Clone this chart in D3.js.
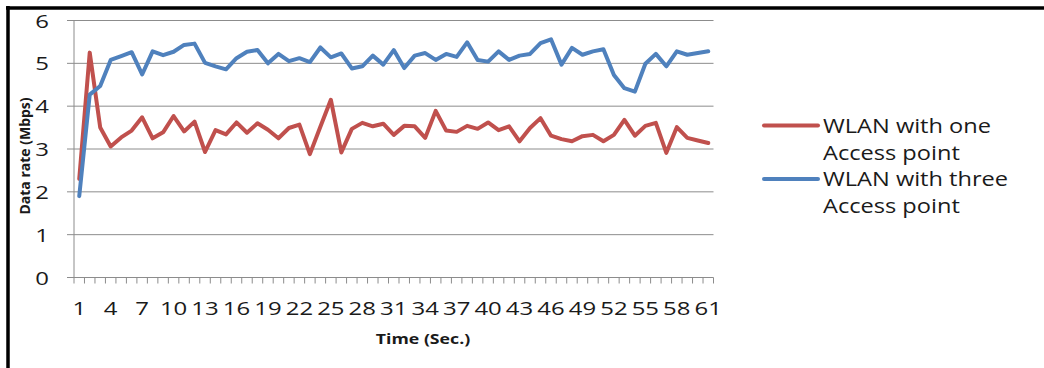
<!DOCTYPE html>
<html>
<head>
<meta charset="utf-8">
<script src="https://d3js.org/d3.v7.min.js"></script>
<style>
  body { margin: 0; background: #ffffff; }
  text { font-family: "Open Sans", sans-serif; fill: #1a1a1a; }
</style>
</head>
<body>
<div id="my_dataviz"></div>
<script>

// time axis (sec.)
var times = [1,2,3,4,5,6,7,8,9,10,11,12,13,14,15,16,17,18,19,20,
  21,22,23,24,25,26,27,28,29,30,31,32,33,34,35,36,37,38,39,40,
  41,42,43,44,45,46,47,48,49,50,51,52,53,54,55,56,57,58,59,60,61];

var timeLabels = [1,4,7,10,13,16,19,22,25,28,31,34,37,40,43,46,49,52,55,58,61];
var rateTicks = [0,1,2,3,4,5,6];

// data rate (Mbps)
var oneAP = [2.3,5.25,3.5,3.06,3.27,3.43,3.74,3.25,3.39,3.77,
  3.41,3.64,2.93,3.44,3.34,3.62,3.38,3.6,3.45,3.25,
  3.49,3.57,2.88,3.52,4.15,2.92,3.47,3.61,3.53,3.59,
  3.33,3.54,3.53,3.26,3.89,3.43,3.4,3.54,3.47,3.62,
  3.44,3.53,3.18,3.49,3.72,3.31,3.23,3.18,3.3,3.33,
  3.18,3.33,3.68,3.31,3.54,3.61,2.91,3.51,3.26,3.2,3.14];

var threeAP = [1.9,4.27,4.47,5.08,5.17,5.26,4.74,5.28,5.19,5.27,
  5.43,5.46,5.01,4.93,4.86,5.12,5.27,5.31,5.0,5.22,
  5.05,5.12,5.03,5.37,5.14,5.23,4.88,4.93,5.18,4.97,
  5.31,4.89,5.18,5.24,5.08,5.22,5.15,5.49,5.08,5.04,
  5.28,5.08,5.18,5.22,5.47,5.56,4.97,5.36,5.2,5.28,
  5.33,4.73,4.42,4.34,4.99,5.22,4.93,5.28,5.2,5.24,5.28];

var seriesNames = ["WLAN with one Access point", "WLAN with three Access point"];
var seriesColors = ["#C0504D", "#4F81BD"];

var width = 1044, height = 368;
var plot = {left: 74, right: 713.5, top: 20.5, bottom: 277.5};
var stretch = 1.18; // text in the picture is a bit wide
var tickStretch = 1.26;

var svg = d3.select("#my_dataviz")
  .append("svg")
    .attr("width", width)
    .attr("height", height);

// frame
svg.append("line").attr("x1", 6).attr("x2", width).attr("y1", 8).attr("y2", 8)
  .attr("stroke", "#000").attr("stroke-width", 3.5);
svg.append("line").attr("x1", 8).attr("x2", 8).attr("y1", 6).attr("y2", height)
  .attr("stroke", "#000").attr("stroke-width", 3.5);

// scales
var x = d3.scaleBand()
  .domain(times)
  .range([plot.left, plot.right])
  .padding(0);

var y = d3.scaleLinear()
  .domain([0, 6])
  .range([plot.bottom, plot.top]);

// gridlines + y ticks
svg.append("g")
  .selectAll("line")
  .data(rateTicks)
  .enter().append("line")
    .attr("x1", plot.left - 7)
    .attr("x2", plot.right)
    .attr("y1", function(d) { return y(d); })
    .attr("y2", function(d) { return y(d); })
    .attr("stroke", "#8c8c8c")
    .attr("stroke-width", 1);

svg.append("line")
  .attr("x1", plot.left).attr("x2", plot.left)
  .attr("y1", plot.top).attr("y2", plot.bottom)
  .attr("stroke", "#8c8c8c");

// y labels
svg.append("g")
  .selectAll("text")
  .data(rateTicks)
  .enter().append("text")
    .attr("transform", function(d) { return "translate(49," + (y(d) + 7) + ") scale(" + tickStretch + ",1)"; })
    .attr("text-anchor", "end")
    .style("font-size", "19px")
    .text(function(d) { return d; });

// x tick marks at category edges
var edges = times.map(function(t) { return x(t); }).concat([plot.right]);
svg.append("g")
  .selectAll("line")
  .data(edges)
  .enter().append("line")
    .attr("x1", function(d) { return d; })
    .attr("x2", function(d) { return d; })
    .attr("y1", plot.bottom)
    .attr("y2", plot.bottom + 6)
    .attr("stroke", "#8c8c8c");

// x labels
svg.append("g")
  .selectAll("text")
  .data(timeLabels)
  .enter().append("text")
    .attr("transform", function(d) { return "translate(" + (x(d) + x.bandwidth() / 2) + ",315) scale(" + tickStretch + ",1)"; })
    .attr("text-anchor", "middle")
    .style("font-size", "19px")
    .text(function(d) { return d; });

// axis titles
svg.append("text")
  .attr("transform", "translate(423,344) scale(" + stretch + ",1)")
  .attr("text-anchor", "middle")
  .style("font-size", "15px")
  .style("font-weight", "bold")
  .text("Time (Sec.)");

svg.append("text")
  .attr("transform", "translate(30,156) rotate(-90)")
  .attr("text-anchor", "middle")
  .style("font-size", "14px")
  .style("font-weight", "bold")
  .text("Data rate (Mbps)");

// lines
var line = d3.line()
  .x(function(d, i) { return x(times[i]) + x.bandwidth() / 2; })
  .y(function(d) { return y(d); });

[oneAP, threeAP].forEach(function(s, k) {
  svg.append("path")
    .datum(s)
    .attr("fill", "none")
    .attr("stroke", seriesColors[k])
    .attr("stroke-width", 4)
    .attr("stroke-linejoin", "round")
    .attr("stroke-linecap", "round")
    .attr("d", line);
});

// legend
var legend = svg.append("g");
seriesNames.forEach(function(name, k) {
  var ly = 125.5 + k * 53.5;
  legend.append("line")
    .attr("x1", 764).attr("x2", 818)
    .attr("y1", ly).attr("y2", ly)
    .attr("stroke", seriesColors[k])
    .attr("stroke-width", 4)
    .attr("stroke-linecap", "round");
  var words = name.split(" ");
  var lines = [words.slice(0, 3).join(" "), words.slice(3).join(" ")];
  lines.forEach(function(t, j) {
    legend.append("text")
      .attr("transform", "translate(823," + (ly + 7 + j * 27) + ") scale(" + stretch + ",1)")
      .style("font-size", "20px")
      .text(t);
  });
});

</script>
</body>
</html>
